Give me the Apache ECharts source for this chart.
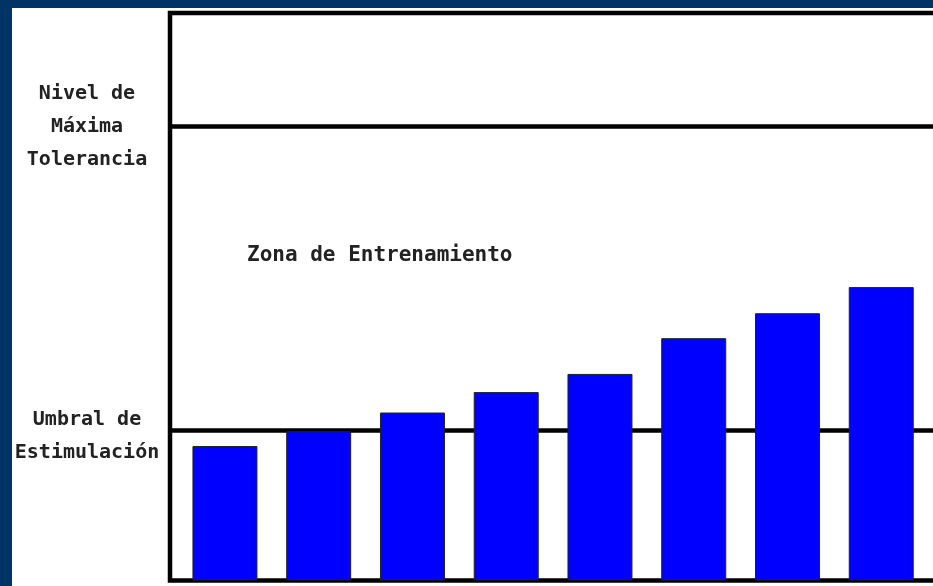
<!DOCTYPE html>
<html>
<head>
<meta charset="utf-8">
<script src="https://cdn.jsdelivr.net/npm/echarts@6/dist/echarts.min.js"></script>
<style>
html, body { margin: 0; padding: 0; width: 933px; height: 586px; background: #003466; overflow: hidden; }
#main { position: absolute; left: 12px; top: 8px; width: 921px; height: 578px; background: #ffffff; }
</style>
</head>
<body>
<div id="main"></div>
<script>
// sesiones de entrenamiento (posicion en el eje x)
var sesiones = [1, 2, 3, 4, 5, 6, 7, 8];
// carga de cada sesion
var cargas = [23.7, 26.3, 29.6, 33.2, 36.4, 42.7, 47.1, 51.7];
// niveles de referencia
var umbralEstimulacion = 26.5;
var maximaTolerancia = 80;
var etiquetaTolerancia = 'Nivel de\nMáxima\nTolerancia';
var etiquetaUmbral = 'Umbral de\nEstimulación';
var etiquetaZona = 'Zona de Entrenamiento';

var fuente = 'DejaVu Sans Mono';

var myChart = echarts.init(document.getElementById('main'));

var datosBarras = [];
for (var i = 0; i < sesiones.length; i++) {
	datosBarras.push([sesiones[i], cargas[i]]);
}

var option = {
	animation : false,
	grid : {
		left : 158,
		top : 5,
		bottom : 5.5,
		right : -12,
		outerBoundsMode : 'none',
		show : true,
		borderColor : '#000',
		borderWidth : 4.5,
		backgroundColor : 'transparent'
	},
	xAxis : {
		type : 'value',
		min : 0.414,
		max : 8.68,
		axisLine : { show : false },
		axisTick : { show : false },
		axisLabel : { show : false },
		splitLine : { show : false }
	},
	yAxis : {
		type : 'value',
		min : 0,
		max : 100,
		axisLine : { show : false },
		axisTick : { show : false },
		axisLabel : { show : false },
		splitLine : { show : false }
	},
	series : [{
		// lineas de referencia (debajo de las barras)
		type : 'line',
		z : 1,
		data : [],
		markLine : {
			z : 1,
			silent : true,
			symbol : 'none',
			lineStyle : { color : '#000', width : 4.5, type : 'solid' },
			label : {
				show : true,
				position : 'start',
				distance : 83,
				align : 'center',
				fontFamily : fuente,
				fontSize : 20,
				fontWeight : 'bold',
				lineHeight : 33,
				color : '#222',
				formatter : '{b}'
			},
			data : [
				{ name : etiquetaTolerancia, yAxis : maximaTolerancia },
				{ name : etiquetaUmbral, yAxis : umbralEstimulacion, label : { offset : [0, 6] } }
			]
		},
		markArea : {
			z : 1,
			silent : true,
			itemStyle : { color : 'rgba(0,0,0,0)' },
			label : {
				show : true,
				position : [77, 129],
				align : 'left',
				verticalAlign : 'middle',
				fontFamily : fuente,
				fontSize : 21,
				fontWeight : 'bold',
				color : '#222'
			},
			data : [[
				{ name : etiquetaZona, yAxis : umbralEstimulacion },
				{ yAxis : maximaTolerancia }
			]]
		}
	}, {
		type : 'bar',
		z : 3,
		barWidth : 65,
		itemStyle : {
			color : '#0000ff',
			borderColor : '#222',
			borderWidth : 1
		},
		data : datosBarras
	}]
};
myChart.setOption(option);
</script>
</body>
</html>
